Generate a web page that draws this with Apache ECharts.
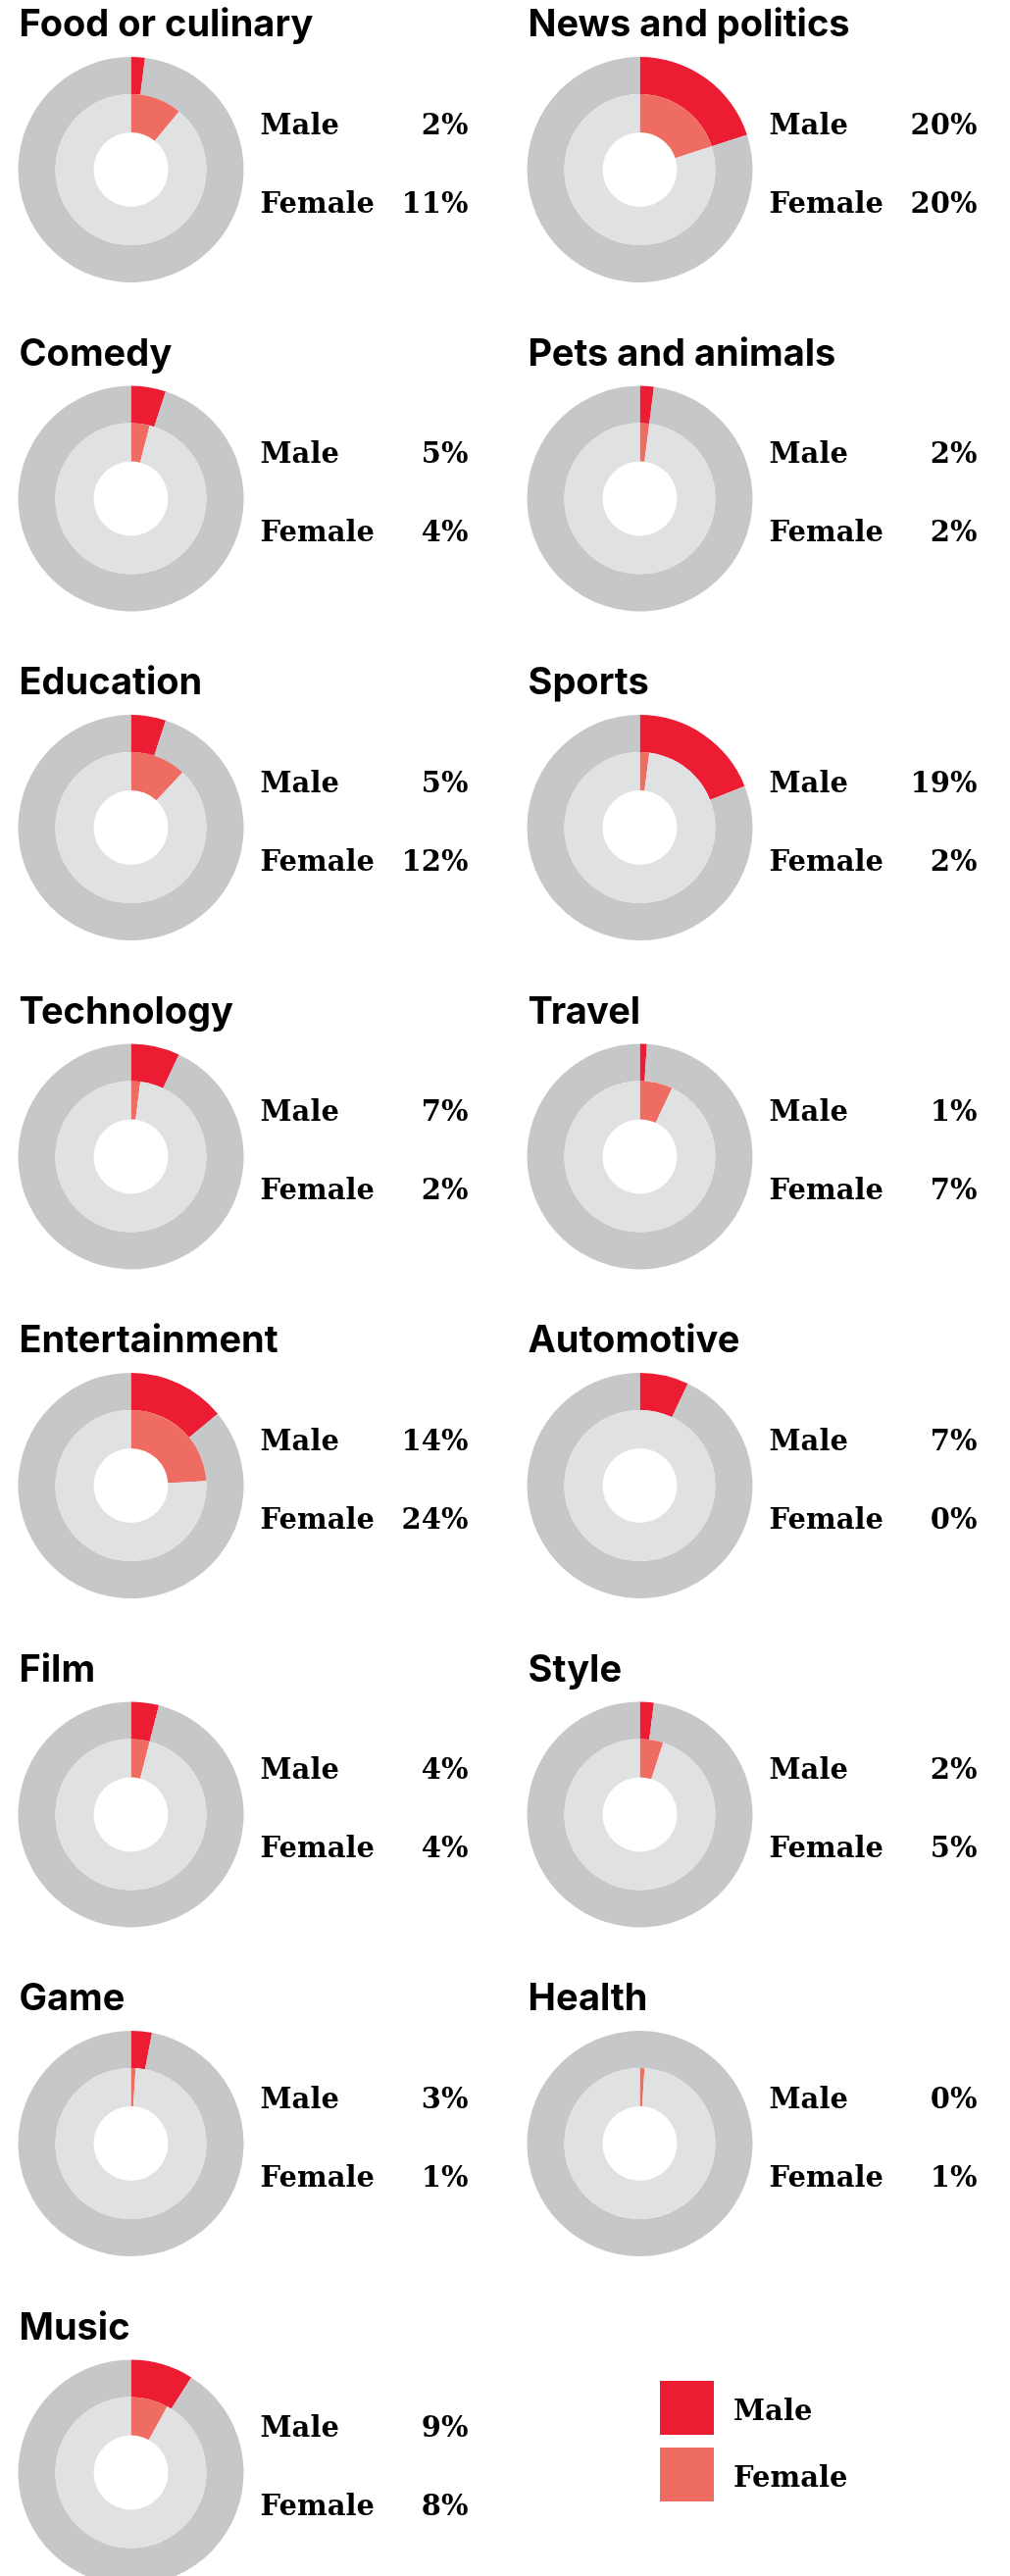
<!DOCTYPE html>
<html>
<head>
    <meta charset="utf-8">
    <title>echarts</title>
    <script src="https://cdn.jsdelivr.net/npm/echarts@6/dist/echarts.min.js"></script>
</head>
<body style="margin:0;background-color:#fff;">
    <div id="main" style="width:1030px;height:2627px;"></div>

    <script type="text/javascript">
        // 数据
        var categories = ['Food or culinary', 'News and politics', 'Comedy', 'Pets and animals',
            'Education', 'Sports', 'Technology', 'Travel', 'Entertainment', 'Automotive',
            'Film', 'Style', 'Game', 'Health', 'Music'];
        var maleValues   = [2, 20, 5, 2, 5, 19, 7, 1, 14, 7, 4, 2, 3, 0, 9];
        var femaleValues = [11, 20, 4, 2, 12, 2, 2, 7, 24, 0, 4, 5, 1, 1, 8];

        var red = '#EC1C33', salmon = '#EF6C62';
        var grayOuter = '#C6C7C9', grayInner = '#E0E1E3';

        var myChart = echarts.init(document.getElementById('main'));

        var series = [];
        var graphics = [];
        var titleFont = '700 38px Inter';
        var labelFont = 'bold 29px "DejaVu Serif"';

        categories.forEach(function (name, i) {
            var col = i % 2, row = Math.floor(i / 2);
            var cx = col ? 652.5 : 133.5;
            var cy = 173 + row * 335.5;

            // 外圈：男
            series.push({
                type: 'pie',
                center: [cx, cy],
                radius: [77, 115],
                silent: true,
                label: { show: false },
                labelLine: { show: false },
                data: [
                    { name: 'Male', value: maleValues[i], itemStyle: { color: red } },
                    { name: 'rest', value: 100 - maleValues[i], itemStyle: { color: grayOuter } }
                ]
            });
            // 内圈：女
            series.push({
                type: 'pie',
                center: [cx, cy],
                radius: [38, 77],
                silent: true,
                label: { show: false },
                labelLine: { show: false },
                data: [
                    { name: 'Female', value: femaleValues[i], itemStyle: { color: salmon } },
                    { name: 'rest', value: 100 - femaleValues[i], itemStyle: { color: grayInner } }
                ]
            });

            graphics.push({
                type: 'text', left: cx - 114, top: cy - 166,
                style: { text: name, font: titleFont, fill: '#000' }
            });
            graphics.push({
                type: 'text', x: cx + 132, y: cy - 44,
                style: { text: 'Male', font: labelFont, fill: '#000', verticalAlign: 'middle' }
            });
            graphics.push({
                type: 'text', x: cx + 344, y: cy - 44,
                style: { text: maleValues[i] + '%', font: labelFont, fill: '#000', align: 'right', verticalAlign: 'middle' }
            });
            graphics.push({
                type: 'text', x: cx + 132, y: cy + 36,
                style: { text: 'Female', font: labelFont, fill: '#000', verticalAlign: 'middle' }
            });
            graphics.push({
                type: 'text', x: cx + 344, y: cy + 36,
                style: { text: femaleValues[i] + '%', font: labelFont, fill: '#000', align: 'right', verticalAlign: 'middle' }
            });
        });

        var option = {
            backgroundColor: '#fff',
            animation: false,
            legend: {
                orient: 'vertical',
                left: 673,
                top: 2428,
                padding: 0,
                itemWidth: 55,
                itemHeight: 55,
                itemGap: 13,
                selectedMode: false,
                data: [{ name: 'Male', icon: 'rect' }, { name: 'Female', icon: 'rect' }],
                formatter: '{t|{name}}',
                textStyle: {
                    rich: {
                        t: {
                            fontFamily: 'DejaVu Serif',
                            fontWeight: 'bold',
                            fontSize: 29,
                            color: '#000',
                            padding: [10, 0, 0, 15]
                        }
                    }
                }
            },
            graphic: graphics,
            series: series
        };

        myChart.setOption(option);
    </script>
</body>
</html>
